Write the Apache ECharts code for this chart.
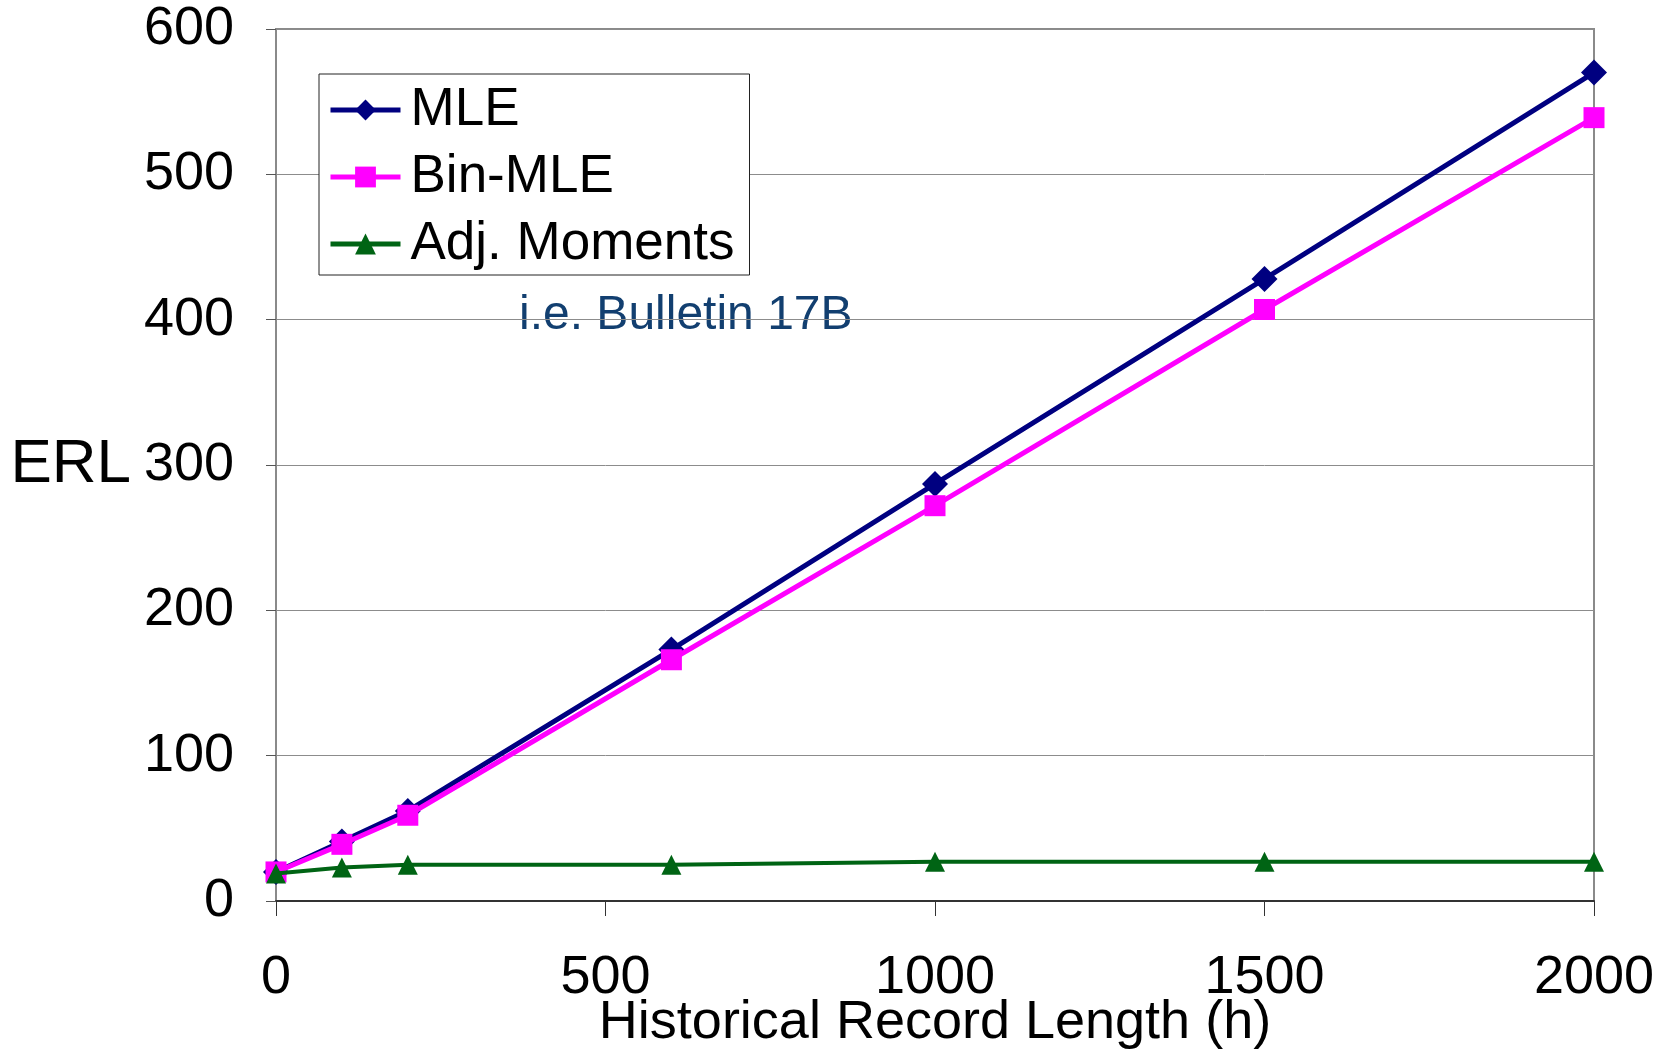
<!DOCTYPE html>
<html>
<head>
<meta charset="utf-8">
<script src="https://cdn.jsdelivr.net/npm/echarts@6/dist/echarts.min.js"></script>
<style>
html,body{margin:0;padding:0;background:#fff;}
#chart{width:1663px;height:1050px;}
</style>
</head>
<body>
<div id="chart"></div>
<script>
const recordLength = [0, 100, 200, 600, 1000, 1500, 2000];
const mle = [20, 41, 62, 173, 287, 428, 570];
const binMle = [20, 39, 59, 166, 272, 407, 539];
const adjMoments = [19, 23, 25, 25, 27, 27, 27];
const xTicks = [0, 500, 1000, 1500, 2000];
const yTicks = [0, 100, 200, 300, 400, 500, 600];
const seriesNames = ['MLE', 'Bin-MLE', 'Adj. Moments'];
const annotation = 'i.e. Bulletin 17B';

const FONT = "'Liberation Sans', Arial, sans-serif";
const pairs = v => recordLength.map((x, i) => [x, v[i]]);

const chart = echarts.init(document.getElementById('chart'));
chart.setOption({
  animation: false,
  backgroundColor: '#ffffff',
  textStyle: { fontFamily: FONT },
  grid: {
    left: 276, right: 69, top: 29, bottom: 149,
    outerBoundsMode: 'none', containLabel: false,
    show: true, borderColor: '#8a8a8a', borderWidth: 2, backgroundColor: 'transparent'
  },
  legend: {
    left: 319, top: 74, orient: 'vertical',
    backgroundColor: '#fff', borderColor: '#222', borderWidth: 1,
    padding: [7, 15, 2, 9],
    itemWidth: 70, itemHeight: 26, itemGap: 9,
    lineStyle: { width: 5 },
    textStyle: { fontFamily: FONT, fontSize: 53, color: '#000', lineHeight: 58, padding: [0, 0, 0, 5] },
    data: seriesNames
  },
  xAxis: {
    type: 'value', min: xTicks[0], max: xTicks[xTicks.length - 1], interval: 500,
    name: 'Historical Record Length (h)', nameLocation: 'middle', nameGap: 95,
    nameMoveOverlap: false,
    nameTextStyle: { fontFamily: FONT, fontSize: 54, color: '#000' },
    axisLine: { show: true, onZero: false, lineStyle: { color: '#333', width: 2 } },
    axisTick: { show: true, length: 15, lineStyle: { color: '#333', width: 1 } },
    axisLabel: { fontFamily: FONT, fontSize: 54, color: '#000', margin: 50, formatter: v => String(v) },
    splitLine: { show: false }
  },
  yAxis: {
    type: 'value', min: yTicks[0], max: yTicks[yTicks.length - 1], interval: 100,
    name: 'ERL', nameLocation: 'middle', nameRotate: 0, nameGap: 145,
    nameMoveOverlap: false,
    nameTextStyle: { fontFamily: FONT, fontSize: 62, color: '#000' },
    axisLine: { show: true, onZero: false, lineStyle: { color: '#8a8a8a', width: 2 } },
    axisTick: { show: true, inside: false, length: 10, lineStyle: { color: '#555', width: 1 } },
    axisLabel: { fontFamily: FONT, fontSize: 54, color: '#000', margin: 42, formatter: v => String(v) },
    splitLine: { show: true, lineStyle: { color: '#8c8c8c', width: 1 } }
  },
  graphic: [{
    type: 'text', left: 519, top: 292,
    style: { text: annotation, fontFamily: FONT, fontSize: 48, fill: '#123f70' }
  }],
  series: [
    {
      name: seriesNames[0], type: 'line', data: pairs(mle),
      symbol: 'diamond', symbolSize: 26,
      lineStyle: { color: '#000080', width: 5 },
      itemStyle: { color: '#000080' }, z: 3
    },
    {
      name: seriesNames[1], type: 'line', data: pairs(binMle),
      symbol: 'rect', symbolSize: 21,
      lineStyle: { color: '#ff00ff', width: 5 },
      itemStyle: { color: '#ff00ff' }, z: 4
    },
    {
      name: seriesNames[2], type: 'line', data: pairs(adjMoments),
      symbol: 'triangle', symbolSize: 20,
      lineStyle: { color: '#006414', width: 4 },
      itemStyle: { color: '#006414' }, z: 5
    }
  ]
});
</script>
</body>
</html>
